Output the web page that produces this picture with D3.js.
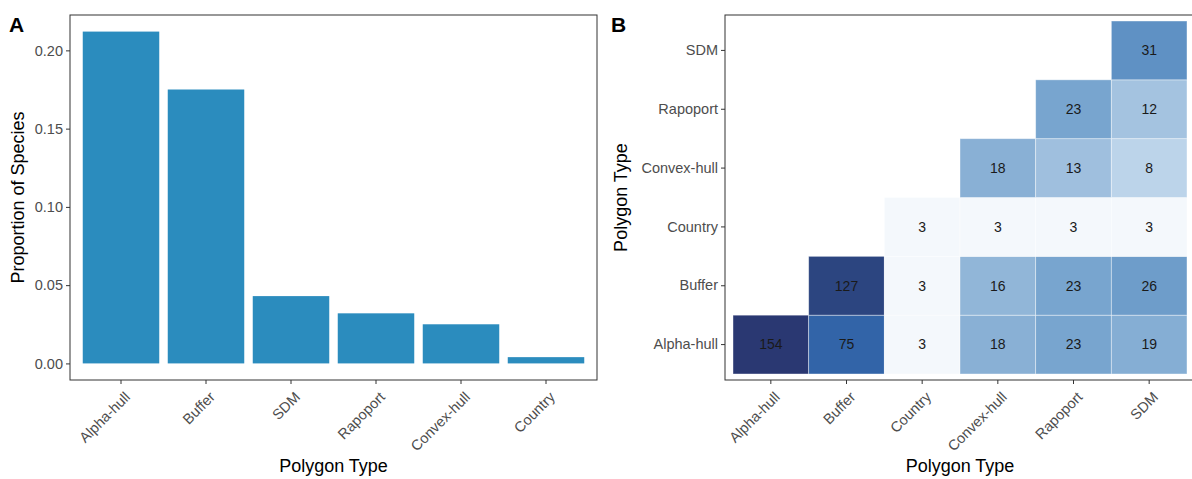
<!DOCTYPE html>
<html>
<head>
<meta charset="utf-8">
<script src="https://cdn.jsdelivr.net/npm/d3@7"></script>
<style>
  body { margin: 0; background: #fff; }
  svg text { font-family: "Liberation Sans", Arial, sans-serif; }
  .tick text { fill: #4d4d4d; font-size: 14.5px; }
  .tick line { stroke: #333; }
  .domain { display: none; }
</style>
</head>
<body>
<div id="chart"></div>
<script>
// panel A: share of species per polygon type
var barCategories = ["Alpha-hull", "Buffer", "SDM", "Rapoport", "Convex-hull", "Country"];
var barValues = [0.212, 0.175, 0.043, 0.032, 0.025, 0.004];
var barTicks = [0, 0.05, 0.10, 0.15, 0.20];

// panel B: overlap counts between polygon types
var heatCategories = ["Alpha-hull", "Buffer", "Country", "Convex-hull", "Rapoport", "SDM"];
var heatCols = ["Alpha-hull", "Buffer", "Country", "Convex-hull", "Rapoport", "SDM",
                "Buffer", "Country", "Convex-hull", "Rapoport", "SDM",
                "Country", "Convex-hull", "Rapoport", "SDM",
                "Convex-hull", "Rapoport", "SDM",
                "Rapoport", "SDM",
                "SDM"];
var heatRows = ["Alpha-hull", "Alpha-hull", "Alpha-hull", "Alpha-hull", "Alpha-hull", "Alpha-hull",
                "Buffer", "Buffer", "Buffer", "Buffer", "Buffer",
                "Country", "Country", "Country", "Country",
                "Convex-hull", "Convex-hull", "Convex-hull",
                "Rapoport", "Rapoport",
                "SDM"];
var heatCounts = [154, 75, 3, 18, 23, 19,
                  127, 3, 16, 23, 26,
                  3, 3, 3, 3,
                  18, 13, 8,
                  23, 12,
                  31];

var W = 1192, H = 479;
var svg = d3.select("#chart").append("svg")
    .attr("width", W)
    .attr("height", H);

// ---------- panel A ----------
var a = { left: 70, right: 597, top: 15, bottom: 380 };

var xA = d3.scaleBand()
    .domain(barCategories)
    .range([a.left, a.right])
    .paddingInner(0.1)
    .paddingOuter(0.15);

var yA = d3.scaleLinear()
    .domain([-0.0106, 0.2226])
    .range([a.bottom, a.top]);

svg.selectAll(".bar")
    .data(barValues)
    .enter().append("rect")
    .attr("class", "bar")
    .attr("x", function (d, i) { return xA(barCategories[i]); })
    .attr("width", xA.bandwidth())
    .attr("y", function (d) { return yA(d); })
    .attr("height", function (d) { return yA(0) - yA(d); })
    .attr("fill", "#2b8cbe");

svg.append("rect")
    .attr("x", a.left).attr("y", a.top)
    .attr("width", a.right - a.left).attr("height", a.bottom - a.top)
    .attr("fill", "none").attr("stroke", "#333").attr("stroke-width", 1);

svg.append("g")
    .attr("transform", "translate(" + a.left + ",0)")
    .call(d3.axisLeft(yA).tickValues(barTicks).tickFormat(d3.format(".2f")).tickSize(4).tickPadding(3));

var gxA = svg.append("g")
    .attr("transform", "translate(0," + a.bottom + ")")
    .call(d3.axisBottom(xA).tickSize(4).tickPadding(3));
gxA.selectAll("text")
    .attr("text-anchor", "end")
    .attr("dx", "0")
    .attr("dy", "0")
    .attr("transform", "translate(5,13) rotate(-45)");

svg.append("text")
    .attr("transform", "translate(24," + ((a.top + a.bottom) / 2) + ") rotate(-90)")
    .attr("text-anchor", "middle")
    .style("font-size", "18px")
    .text("Proportion of Species");

svg.append("text")
    .attr("x", (a.left + a.right) / 2).attr("y", 472)
    .attr("text-anchor", "middle")
    .style("font-size", "18px")
    .text("Polygon Type");

svg.append("text")
    .attr("x", 9).attr("y", 32)
    .style("font-size", "21px").style("font-weight", "bold")
    .text("A");

// ---------- panel B ----------
var b = { left: 725, right: 1195, top: 15, bottom: 380 };
var bx0 = 733, bx1 = 1187, by0 = 21, by1 = 374;

var xB = d3.scaleBand().domain(heatCategories).range([bx0, bx1]);
var yB = d3.scaleBand().domain(heatCategories).range([by1, by0]);

var color = d3.scaleLog()
    .domain([3, 8, 12, 23, 31, 75, 127, 154])
    .range(["#f4f8fc", "#bcd4ea", "#a4c3e0", "#78a5cf", "#5f91c4", "#3264a8", "#2c4580", "#2a3872"])
    .interpolate(d3.interpolateRgb);

var cells = heatCounts.map(function (v, i) {
    return { col: heatCols[i], row: heatRows[i], value: v };
});

svg.selectAll(".cell")
    .data(cells)
    .enter().append("rect")
    .attr("class", "cell")
    .attr("x", function (d) { return xB(d.col); })
    .attr("y", function (d) { return yB(d.row); })
    .attr("width", xB.bandwidth())
    .attr("height", yB.bandwidth())
    .attr("fill", function (d) { return color(d.value); })
    .attr("stroke", "#ffffff")
    .attr("stroke-opacity", 0.5)
    .attr("stroke-width", 0.8);

svg.selectAll(".cell-label")
    .data(cells)
    .enter().append("text")
    .attr("class", "cell-label")
    .attr("x", function (d) { return xB(d.col) + xB.bandwidth() / 2; })
    .attr("y", function (d) { return yB(d.row) + yB.bandwidth() / 2; })
    .attr("dy", "0.35em")
    .attr("text-anchor", "middle")
    .style("font-size", "14px")
    .attr("fill", "#1a1a1a")
    .text(function (d) { return d.value; });

svg.append("rect")
    .attr("x", b.left).attr("y", b.top)
    .attr("width", b.right - b.left).attr("height", b.bottom - b.top)
    .attr("fill", "none").attr("stroke", "#333").attr("stroke-width", 1);

svg.append("g")
    .attr("transform", "translate(" + b.left + ",0)")
    .call(d3.axisLeft(yB).tickSize(4).tickPadding(3));

var gxB = svg.append("g")
    .attr("transform", "translate(0," + b.bottom + ")")
    .call(d3.axisBottom(xB).tickSize(4).tickPadding(3));
gxB.selectAll("text")
    .attr("text-anchor", "end")
    .attr("dx", "0")
    .attr("dy", "0")
    .attr("transform", "translate(5,13) rotate(-45)");

svg.append("text")
    .attr("transform", "translate(627," + ((b.top + b.bottom) / 2) + ") rotate(-90)")
    .attr("text-anchor", "middle")
    .style("font-size", "18px")
    .text("Polygon Type");

svg.append("text")
    .attr("x", (bx0 + bx1) / 2).attr("y", 472)
    .attr("text-anchor", "middle")
    .style("font-size", "18px")
    .text("Polygon Type");

svg.append("text")
    .attr("x", 611).attr("y", 32)
    .style("font-size", "21px").style("font-weight", "bold")
    .text("B");
</script>
</body>
</html>
